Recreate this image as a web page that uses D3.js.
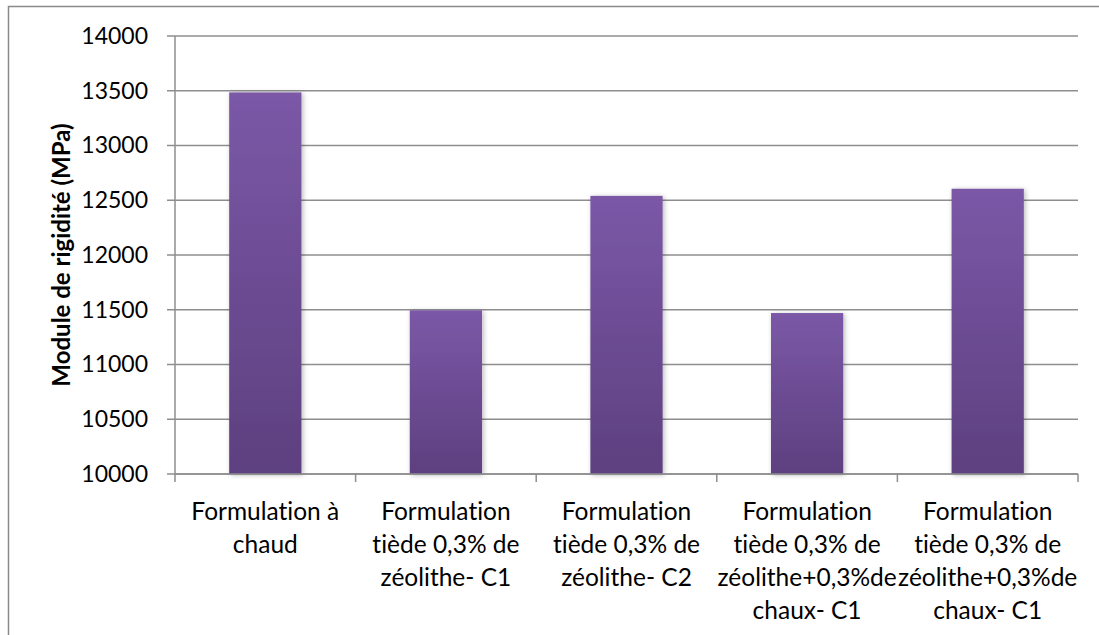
<!DOCTYPE html>
<html>
<head>
<meta charset="utf-8">
<script src="https://cdn.jsdelivr.net/npm/d3@7"></script>
<style>
  html, body { margin: 0; padding: 0; background: #fff; }
  svg { display: block; font-family: Lato, "Open Sans", sans-serif; }
  svg text { font-variant-ligatures: none; font-feature-settings: "liga" 0, "dlig" 0; }
</style>
</head>
<body>
<svg id="chart" width="1099" height="635"></svg>
<script>
// Data
const categories = [
  ['Formulation à', 'chaud'],
  ['Formulation', 'tiède 0,3% de', 'zéolithe- C1'],
  ['Formulation', 'tiède 0,3% de', 'zéolithe- C2'],
  ['Formulation', 'tiède 0,3% de', 'zéolithe+0,3%de', 'chaux- C1'],
  ['Formulation', 'tiède 0,3% de', 'zéolithe+0,3%de', 'chaux- C1']
];
const values = [13485, 11495, 12540, 11470, 12605];
const yTicks = [10000, 10500, 11000, 11500, 12000, 12500, 13000, 13500, 14000];
const yTitle = 'Module de rigidité (MPa)';

const svg = d3.select('#chart');

// outer chart border (only top/left visible in frame)
svg.append('rect')
  .attr('x', 8.5).attr('y', 6.5)
  .attr('width', 1200).attr('height', 700)
  .attr('fill', '#fff')
  .attr('stroke', '#8a8a8a')
  .attr('stroke-width', 1.5);

const margin = { top: 36, right: 21, bottom: 161, left: 175 };
const width = 1099 - margin.left - margin.right;
const height = 635 - margin.top - margin.bottom;

const defs = svg.append('defs');
const grad = defs.append('linearGradient')
  .attr('id', 'barGrad')
  .attr('x1', 0).attr('y1', 0).attr('x2', 0).attr('y2', 1);
grad.append('stop').attr('offset', '0%').attr('stop-color', '#7b58a7');
grad.append('stop').attr('offset', '100%').attr('stop-color', '#5d407f');

const shadow = defs.append('filter').attr('id', 'shadow')
  .attr('x', '-20%').attr('y', '-10%').attr('width', '140%').attr('height', '120%');
shadow.append('feDropShadow')
  .attr('dx', 1.5).attr('dy', 1)
  .attr('stdDeviation', 2.5)
  .attr('flood-color', '#000')
  .attr('flood-opacity', 0.28);

const g = svg.append('g')
  .attr('transform', 'translate(' + margin.left + ',' + margin.top + ')');

const x = d3.scaleBand()
  .domain(d3.range(categories.length))
  .range([0, width])
  .padding(0);

const y = d3.scaleLinear()
  .domain([10000, 14000])
  .range([height, 0]);

// gridlines
g.append('g')
  .selectAll('line')
  .data(yTicks)
  .join('line')
  .attr('x1', -8).attr('x2', width)
  .attr('y1', d => y(d)).attr('y2', d => y(d))
  .attr('stroke', '#8e8e8e')
  .attr('stroke-width', 1.5);

// y axis labels
const yAxis = d3.axisLeft(y).tickValues(yTicks).tickSize(0).tickPadding(27).tickFormat(d3.format('d'));
g.append('g')
  .call(yAxis)
  .call(s => s.select('.domain').remove())
  .selectAll('text')
  .attr('font-family', 'Lato, sans-serif')
  .attr('font-size', 23)
  .attr('fill', '#000');

// y axis line
g.append('line')
  .attr('x1', 0).attr('x2', 0)
  .attr('y1', 0).attr('y2', height)
  .attr('stroke', '#8e8e8e').attr('stroke-width', 1.5);

// bars
const barW = x.bandwidth() / 2.5;
g.append('g')
  .selectAll('rect')
  .data(values)
  .join('rect')
  .attr('x', (d, i) => x(i) + (x.bandwidth() - barW) / 2)
  .attr('y', d => y(d))
  .attr('width', barW)
  .attr('height', d => height - y(d))
  .attr('fill', 'url(#barGrad)')
  .attr('filter', 'url(#shadow)');

// x axis line + ticks at band boundaries
g.append('line')
  .attr('x1', 0).attr('x2', width)
  .attr('y1', height).attr('y2', height)
  .attr('stroke', '#8e8e8e').attr('stroke-width', 1.5);
g.append('g')
  .selectAll('line')
  .data(d3.range(categories.length + 1))
  .join('line')
  .attr('x1', i => i * x.step()).attr('x2', i => i * x.step())
  .attr('y1', height).attr('y2', height + 8)
  .attr('stroke', '#8e8e8e').attr('stroke-width', 1.5);

// category labels
const labels = g.append('g')
  .selectAll('text')
  .data(categories)
  .join('text')
  .attr('text-anchor', 'middle')
  .attr('font-size', 24.5)
  .attr('fill', '#000')
  .attr('transform', (d, i) => 'translate(' + (x(i) + x.bandwidth() / 2) + ',' + (height + 46) + ')');
labels.selectAll('tspan')
  .data(d => d)
  .join('tspan')
  .attr('x', 0)
  .attr('y', (d, i) => i * 33)
  .text(d => d);

// y title
svg.append('text')
  .attr('transform', 'translate(70,' + (margin.top + height / 2) + ') rotate(-90)')
  .attr('text-anchor', 'middle')
  .attr('font-size', 24)
  .attr('font-weight', 'bold')
  .attr('fill', '#000')
  .text(yTitle);
</script>
</body>
</html>
